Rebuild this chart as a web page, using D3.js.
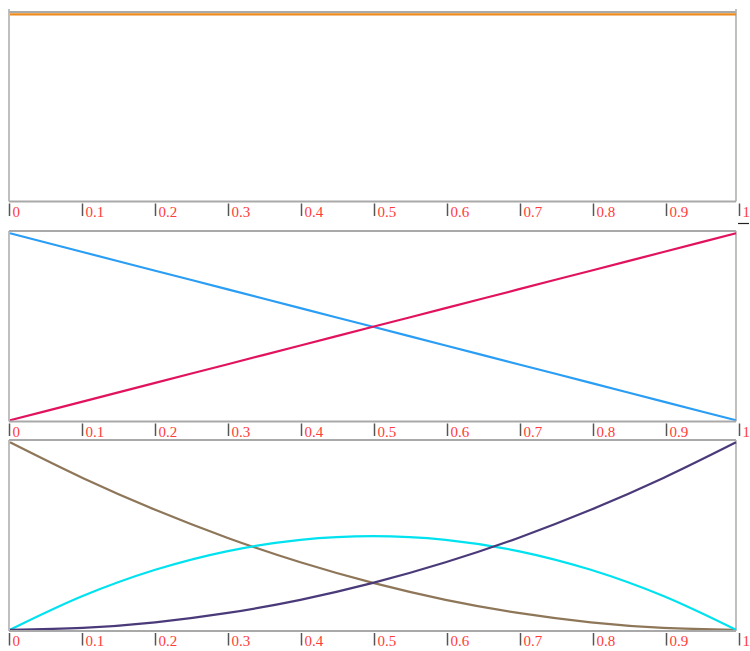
<!DOCTYPE html>
<html>
<head>
<meta charset="utf-8">
<script src="https://cdn.jsdelivr.net/npm/d3@7"></script>
<style>
  html, body { margin: 0; padding: 0; background: #fff; }
  svg { display: block; }
</style>
</head>
<body>
<svg id="chart" width="750" height="651"></svg>
<script>
// Bernstein basis polynomials of degree 0, 1 and 2, sampled on [0, 1]
const tValues = [0, 0.1, 0.2, 0.3, 0.4, 0.5, 0.6, 0.7, 0.8, 0.9, 1];
const tickValues = [0, 0.1, 0.2, 0.3, 0.4, 0.5, 0.6, 0.7, 0.8, 0.9, 1];
const tickLabels = ["0", "0.1", "0.2", "0.3", "0.4", "0.5", "0.6", "0.7", "0.8", "0.9", "1"];

// degree 0
const b00 = [1, 1, 1, 1, 1, 1, 1, 1, 1, 1, 1];
// degree 1
const b01 = [1, 0.9, 0.8, 0.7, 0.6, 0.5, 0.4, 0.3, 0.2, 0.1, 0];
const b11 = [0, 0.1, 0.2, 0.3, 0.4, 0.5, 0.6, 0.7, 0.8, 0.9, 1];
// degree 2
const b02 = [1, 0.81, 0.64, 0.49, 0.36, 0.25, 0.16, 0.09, 0.04, 0.01, 0];
const b12 = [0, 0.18, 0.32, 0.42, 0.48, 0.5, 0.48, 0.42, 0.32, 0.18, 0];
const b22 = [0, 0.01, 0.04, 0.09, 0.16, 0.25, 0.36, 0.49, 0.64, 0.81, 1];

const panels = [
  { top: 12, bottom: 201.5, series: [b00], colors: ["#ec8a1a"] },
  { top: 231, bottom: 421.5, series: [b01, b11], colors: ["#2a9df4", "#e2135e"] },
  { top: 440, bottom: 631, series: [b02, b12, b22], colors: ["#8e7658", "#00e2ef", "#4b3a7a"] }
];

const svg = d3.select("#chart");

const boxLeft = 9, boxRight = 736;
const x = d3.scaleLinear().domain([0, 1]).range([boxLeft + 1, boxRight]);
const xTick = d3.scaleLinear().domain([0, 1]).range([9.5, 739.5]);

panels.forEach((p, i) => {
  const g = svg.append("g");
  const y = d3.scaleLinear().domain([0, 1]).range([p.bottom - 1.2, p.top + 2.3]);

  // frame: top, left and right edges
  const frameTop = i === 0 ? 9 : p.top;
  g.append("line").attr("x1", boxLeft).attr("x2", boxRight)
    .attr("y1", p.top).attr("y2", p.top)
    .attr("stroke", "#a9a9a9").attr("stroke-width", 2);
  [boxLeft, boxRight].forEach(xx => {
    g.append("line").attr("x1", xx).attr("x2", xx)
      .attr("y1", frameTop).attr("y2", p.bottom)
      .attr("stroke", "#b0b0b0").attr("stroke-width", 1.6);
  });

  // curves
  const line = d3.line()
    .x((d, k) => x(tValues[k]))
    .y(d => y(d))
    .curve(d3.curveMonotoneX);
  p.series.forEach((s, k) => {
    g.append("path").datum(s)
      .attr("d", line)
      .attr("fill", "none")
      .attr("stroke", p.colors[k])
      .attr("stroke-width", 2.2);
  });

  // axis baseline
  g.append("line").attr("x1", boxLeft).attr("x2", boxRight)
    .attr("y1", p.bottom).attr("y2", p.bottom)
    .attr("stroke", "#a9a9a9").attr("stroke-width", 2);

  // ticks and labels
  const ticks = g.selectAll("g.tick").data(tickValues).enter().append("g")
    .attr("class", "tick")
    .attr("transform", d => `translate(${xTick(d)},${p.bottom})`);
  ticks.append("line")
    .attr("x1", 0).attr("x2", 0).attr("y1", 2).attr("y2", 14.5)
    .attr("stroke", "#555").attr("stroke-width", 1.5);
  ticks.append("text")
    .attr("x", 3).attr("y", 15)
    .attr("fill", "#ff3b3b")
    .attr("font-family", "'Liberation Serif', 'DejaVu Serif', serif")
    .attr("font-size", 15)
    .text((d, k) => tickLabels[k]);
});

// small marker to the right of the first axis end
svg.append("line").attr("x1", 738).attr("x2", 749)
  .attr("y1", 223.5).attr("y2", 223.5)
  .attr("stroke", "#222").attr("stroke-width", 1.2);
</script>
</body>
</html>
